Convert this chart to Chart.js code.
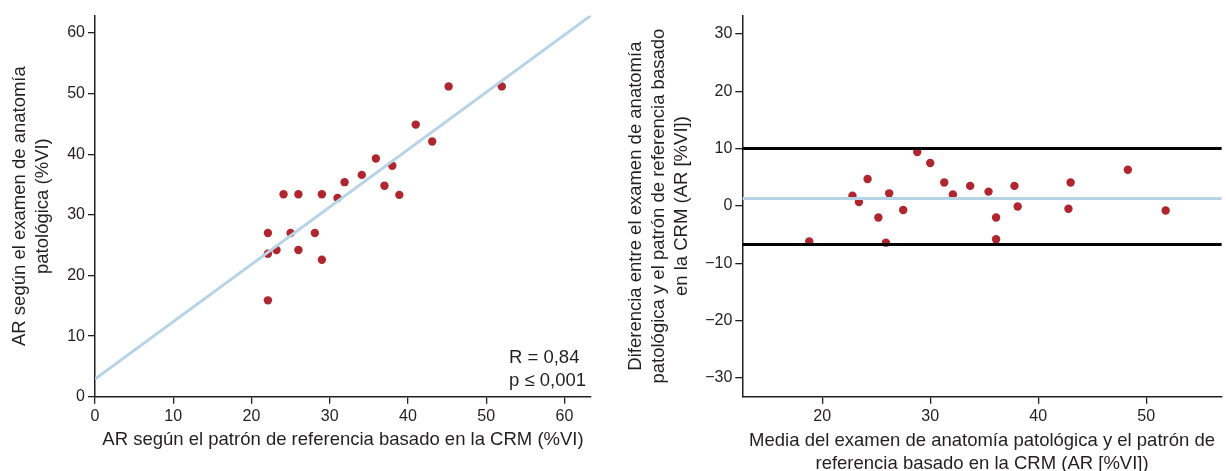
<!DOCTYPE html>
<html>
<head>
<meta charset="utf-8">
<script src="https://cdn.jsdelivr.net/npm/chart.js@4.4.1/dist/chart.umd.min.js"></script>
<style>
  html, body { margin: 0; padding: 0; background: #fff; overflow: hidden; }
  #left { position: absolute; left: 0; top: 0; }
  #right { position: absolute; left: 610px; top: 0; }
</style>
</head>
<body>
<canvas id="left" width="610" height="471"></canvas>
<canvas id="right" width="616" height="471"></canvas>
<script>
// correlación: patrón CRM (x) frente a anatomía patológica (y)
const crmX = [45.2, 52.0, 41.0, 43.1, 35.9, 38.0, 34.1, 31.9, 37.0, 31.0, 38.9,
              24.1, 26.0, 29.0, 22.1, 25.0, 28.1, 22.1, 23.2, 26.0, 29.0, 22.1];
const patY = [51.2, 51.2, 44.9, 42.1, 39.3, 38.1, 36.6, 35.4, 34.8, 32.8, 33.3,
              33.4, 33.4, 33.4, 27.0, 27.0, 27.0, 23.6, 24.2, 24.2, 22.6, 15.9];
const regX = [0, 63.4];
const regY = [2.9, 62.9];
const statsText = ['R = 0,84', 'p \u2264 0,001'];
const leftTicksX = [0, 10, 20, 30, 40, 50, 60];
const leftTicksY = [0, 10, 20, 30, 40, 50, 60];

// Bland-Altman: media frente a diferencia
const baMean = [18.8, 22.8, 23.4, 24.2, 25.2, 25.9, 26.2, 27.5, 28.8, 30.0, 31.3,
                32.1, 33.7, 35.4, 36.1, 36.1, 37.8, 38.1, 42.8, 43.0, 48.3, 51.8];
const baDiff = [-6.2, 1.8, 0.7, 4.7, -2.0, -6.4, 2.2, -0.7, 9.4, 7.5, 4.1,
                2.0, 3.5, 2.5, -2.0, -5.8, 3.5, -0.1, -0.5, 4.1, 6.3, -0.8];
const limitUpper = 10.0;
const limitMean = 1.3;
const limitLower = -6.7;
const rightTicksX = [20, 30, 40, 50];
const rightTicksY = [-30, -20, -10, 0, 10, 20, 30];

const leftRange = { xMax: 63.4, yMax: 62.9 };
const rightRange = { xMin: 12.6, xMax: 57.0, yMin: -33.25, yMax: 33.2 };

const ink = '#231f20';
const red = '#b0262f';
const blue = '#b7d3e6';
const font = 'Liberation Sans, Arial, sans-serif';
Chart.defaults.font.family = font;
Chart.defaults.color = ink;

function pts(xs, ys) {
  return xs.map((x, i) => ({ x: x, y: ys[i] }));
}
function axis(tickValues, extra) {
  return Object.assign({
    type: 'linear',
    grid: { display: true, drawOnChartArea: false, drawTicks: true, tickLength: 7, color: ink, lineWidth: 1.3 },
    border: { display: true, color: ink, width: 1.5 },
    ticks: { padding: 3, color: ink, font: { size: 16 },
      callback: v => String(v).replace('-', '\u2212') },
    afterBuildTicks(scale) { scale.ticks = tickValues.map(v => ({ value: v })); }
  }, extra);
}
function title(text, pad) {
  return { display: true, text: text, color: ink, font: { size: 18.5, lineHeight: 1.25 }, padding: pad };
}

const statsPlugin = {
  id: 'stats',
  afterDatasetsDraw(chart) {
    const { ctx, chartArea } = chart;
    ctx.save();
    ctx.font = '18.5px ' + font;
    ctx.fillStyle = ink;
    ctx.textAlign = 'left';
    ctx.textBaseline = 'middle';
    statsText.forEach((t, i) => ctx.fillText(t, chartArea.right - 82, chartArea.bottom - 39 + i * 23));
    ctx.restore();
  }
};

new Chart('left', {
  type: 'scatter',
  data: {
    datasets: [
      { type: 'line', data: pts(regX, regY), borderColor: blue, borderWidth: 3, pointRadius: 0, fill: false },
      { data: pts(crmX, patY), backgroundColor: red, borderColor: red, pointRadius: 4.2, pointBorderWidth: 0 }
    ]
  },
  options: {
    responsive: false,
    animation: false,
    layout: { padding: { top: 15.5, right: 19, left: 0, bottom: 0 } },
    plugins: { legend: { display: false }, tooltip: { enabled: false } },
    scales: {
      x: axis(leftTicksX, { min: 0, max: leftRange.xMax,
        title: title('AR según el patrón de referencia basado en la CRM (%VI)', { top: 0, bottom: 19.5 }),
        afterFit(s) { s.height = 74.3; } }),
      y: axis(leftTicksY, { min: 0, max: leftRange.yMax,
        title: title(['AR según el examen de anatomía', 'patológica (%VI)'], { top: 8.5, bottom: 0 }),
        afterFit(s) { s.width = 95; } })
    }
  },
  plugins: [statsPlugin]
});

new Chart('right', {
  type: 'scatter',
  data: {
    datasets: [
      { type: 'line', data: pts([rightRange.xMin, rightRange.xMax], [limitUpper, limitUpper]), borderColor: '#000', borderWidth: 3, pointRadius: 0 },
      { type: 'line', data: pts([rightRange.xMin, rightRange.xMax], [limitLower, limitLower]), borderColor: '#000', borderWidth: 3, pointRadius: 0 },
      { type: 'line', data: pts([rightRange.xMin, rightRange.xMax], [limitMean, limitMean]), borderColor: blue, borderWidth: 3, pointRadius: 0 },
      { data: pts(baMean, baDiff), backgroundColor: red, borderColor: red, pointRadius: 4.2, pointBorderWidth: 0 }
    ]
  },
  options: {
    responsive: false,
    animation: false,
    layout: { padding: { top: 15.5, right: 0, left: 0, bottom: 0 } },
    plugins: { legend: { display: false }, tooltip: { enabled: false } },
    scales: {
      x: axis(rightTicksX, { min: rightRange.xMin, max: rightRange.xMax,
        title: title(['Media del examen de anatomía patológica y el patrón de', 'referencia basado en la CRM (AR [%VI])'], { top: 0, bottom: -4.7 }),
        afterFit(s) { s.height = 74.3; } }),
      y: axis(rightTicksY, { min: rightRange.yMin, max: rightRange.yMax,
        title: title(['Diferencia entre el examen de anatomía', 'patológica y el patrón de referencia basado', 'en la CRM (AR [%VI])'], { top: 14.4, bottom: 0 }),
        afterFit(s) { s.width = 132.3; } })
    }
  }
});
</script>
</body>
</html>
